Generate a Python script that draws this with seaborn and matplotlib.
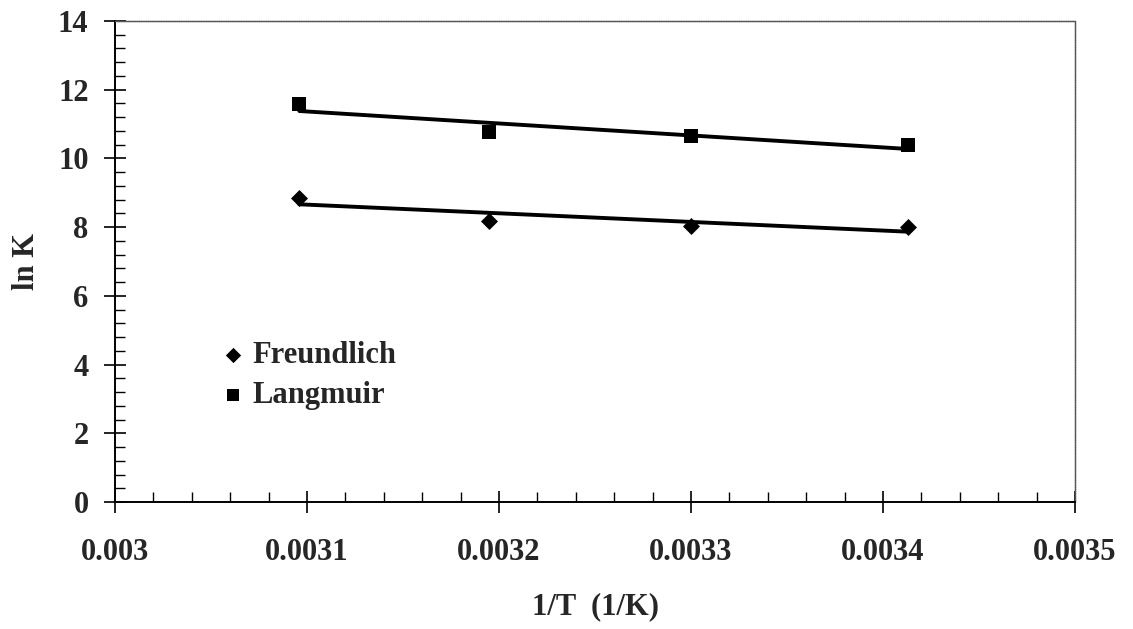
import numpy as np
import pandas as pd
import matplotlib
matplotlib.use("Agg")
import matplotlib.pyplot as plt
from matplotlib.ticker import MultipleLocator
import seaborn as sns

# Equilibrium constants vs. inverse temperature (293-323 K)
inv_T = [0.003096, 0.003195, 0.003300, 0.003413]
lnK_freundlich = [8.86, 8.19, 8.04, 8.01]
lnK_langmuir = [11.58, 10.76, 10.64, 10.38]

series_names = ["Freundlich", "Langmuir"]
x_ticks = [0.003, 0.0031, 0.0032, 0.0033, 0.0034, 0.0035]
x_tick_labels = ["0.003", "0.0031", "0.0032", "0.0033", "0.0034", "0.0035"]
y_ticks = [0, 2, 4, 6, 8, 10, 12, 14]

df = pd.DataFrame({
    "inv_T": inv_T * 2,
    "lnK": lnK_freundlich + lnK_langmuir,
    "model": [series_names[0]] * 4 + [series_names[1]] * 4,
})

sns.set_style("ticks")
plt.rcParams["font.family"] = ["Liberation Serif", "DejaVu Serif"]
plt.rcParams["font.weight"] = "bold"

fig = plt.figure(figsize=(11.33, 6.29), dpi=100)
ax = fig.add_axes([115 / 1133, 1 - 502 / 629, 960 / 1133, (502 - 21) / 629])

markers = {"Freundlich": ("D", 75), "Langmuir": ("s", 95)}
for name in series_names:
    sub = df[df["model"] == name]
    m, s = markers[name]
    sns.regplot(
        data=sub, x="inv_T", y="lnK", ax=ax, ci=None, truncate=True,
        marker=m, color="black", label=name,
        scatter_kws={"s": s, "linewidths": 0, "alpha": 1, "zorder": 3},
        line_kws={"linewidth": 2.8, "color": "black", "zorder": 2},
    )

ax.set_xlim(0.003, 0.0035)
ax.set_ylim(0, 14)
ax.set_xticks(x_ticks)
ax.set_xticklabels(x_tick_labels)
ax.set_yticks(y_ticks)
ax.xaxis.set_minor_locator(MultipleLocator(0.00002))
ax.yaxis.set_minor_locator(MultipleLocator(0.4))

ax.tick_params(axis="both", which="major", direction="inout", length=16,
               width=1.2, color="black", labelsize=22)
ax.tick_params(axis="x", which="major", pad=18)
ax.tick_params(axis="y", which="major", pad=11)
ax.tick_params(axis="both", which="minor", direction="in", length=7,
               width=1.0, color="black")
for lab in ax.get_xticklabels() + ax.get_yticklabels():
    lab.set_fontweight("bold")

for side in ["left", "bottom"]:
    ax.spines[side].set_linewidth(1.4)
    ax.spines[side].set_color("black")
for side in ["top", "right"]:
    ax.spines[side].set_visible(True)
    ax.spines[side].set_linewidth(1.0)
    ax.spines[side].set_color("#555555")
    ax.spines[side].set_linestyle((0, (1, 0.6)))

ax.set_xlabel("1/T  (1/K)", fontsize=22, fontweight="bold", labelpad=18)
ax.set_ylabel("ln K", fontsize=22, fontweight="bold", labelpad=12)

ax.legend(loc="upper left", bbox_to_anchor=(0.115, 0.335), frameon=False,
          prop={"size": 22, "weight": "bold"}, handlelength=0.5,
          handletextpad=0.4, labelspacing=0.35, borderaxespad=0,
          borderpad=0, markerscale=0.9)

fig.savefig("out.png", dpi=100)
